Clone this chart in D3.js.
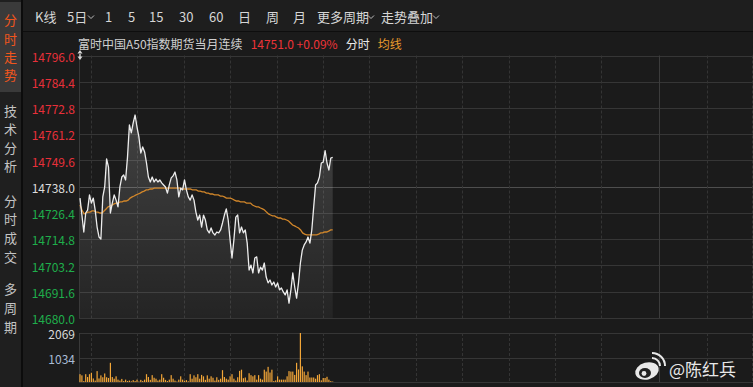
<!DOCTYPE html>
<html>
<head>
<meta charset="utf-8">
<script src="https://cdn.jsdelivr.net/npm/d3@7"></script>
<style>
body { margin: 0; background: #1b1b1b; overflow: hidden; }
svg text { font-family: "Noto Sans CJK SC", "Noto Sans", sans-serif; }
</style>
</head>
<body>
<svg id="chart" width="753" height="387"></svg>
<script>
// 菜单 / 侧栏文字
const menuItems = ["K线", "5日", "1", "5", "15", "30", "60", "日", "周", "月", "更多周期", "走势叠加"];
const sideGroups = [["分", "时", "走", "势"], ["技", "术", "分", "析"], ["分", "时", "成", "交"], ["多", "周", "期"]];
const title = "富时中国A50指数期货当月连续";
const lastPrice = "14751.0";
const lastChange = "+0.09%";

// 价格刻度
const priceTicks = [14796.0, 14784.4, 14772.8, 14761.2, 14749.6, 14738.0, 14726.4, 14714.8, 14703.2, 14691.6, 14680.0];
const prevClose = 14738.0;
const volTicks = [2069, 1034];

// 分时价格
const prices = [
  14733.0, 14725.5, 14718.0, 14726.4, 14727.7, 14734.4, 14730.8, 14733.0, 14727.7, 14720.2,
  14715.8, 14714.9, 14733.5, 14737.9, 14750.3, 14746.7, 14726.4, 14730.8, 14734.4, 14732.1,
  14729.1, 14737.9, 14742.3, 14743.2, 14741.0, 14751.1, 14765.3, 14761.8, 14766.2, 14769.7,
  14764.4, 14760.0, 14752.9, 14755.6, 14753.4, 14748.5, 14742.3, 14740.1, 14742.3, 14740.1,
  14741.4, 14740.1, 14741.0, 14739.7, 14738.8, 14737.9, 14735.2, 14738.8, 14741.9, 14742.8,
  14744.5, 14741.0, 14733.5, 14737.4, 14736.6, 14741.0, 14736.6, 14733.5, 14732.1, 14734.4,
  14732.1, 14726.8, 14723.3, 14725.5, 14720.2, 14725.5, 14723.3, 14718.9, 14717.6, 14719.8,
  14717.6, 14716.7, 14718.0, 14717.6, 14718.9, 14722.0, 14725.5, 14728.2, 14723.3, 14714.5,
  14706.5, 14714.5, 14724.6, 14725.5, 14717.6, 14720.2, 14717.6, 14718.9, 14713.1, 14701.2,
  14703.4, 14699.9, 14706.5, 14707.0, 14699.9, 14702.5, 14701.2, 14704.3, 14698.1, 14695.5,
  14696.8, 14694.6, 14695.9, 14693.7, 14695.5, 14692.4, 14693.3, 14691.5, 14690.2, 14692.4,
  14686.6, 14692.4, 14699.9, 14693.7, 14688.8, 14695.5, 14704.3, 14710.0, 14712.3, 14713.6,
  14715.8, 14713.1, 14718.9, 14729.1, 14738.8, 14739.7, 14742.3, 14748.5, 14748.9, 14754.0,
  14748.5, 14745.4, 14750.7, 14751.0
];

// 均线
const avgPrices = [
  14729.9, 14727.7, 14726.0, 14726.4, 14726.8, 14726.8, 14727.3, 14727.3, 14726.8, 14726.8,
  14726.4, 14726.4, 14727.3, 14728.2, 14729.1, 14729.5, 14729.9, 14730.4, 14730.8, 14730.8,
  14731.3, 14731.3, 14731.7, 14731.7, 14732.1, 14733.0, 14733.5, 14733.9, 14734.4, 14734.8,
  14735.2, 14735.7, 14736.1, 14736.6, 14736.6, 14737.0, 14737.0, 14737.4, 14737.4, 14737.4,
  14737.4, 14737.4, 14737.4, 14737.4, 14737.4, 14737.4, 14737.4, 14737.4, 14737.4, 14737.4,
  14737.4, 14737.0, 14737.0, 14737.0, 14737.0, 14737.0, 14736.6, 14736.6, 14736.6, 14736.1,
  14736.1, 14735.7, 14735.7, 14735.2, 14735.2, 14734.8, 14734.8, 14734.4, 14734.4, 14734.4,
  14733.9, 14733.9, 14733.5, 14733.0, 14733.0, 14733.0, 14732.6, 14732.1, 14731.7, 14731.7,
  14731.3, 14731.3, 14731.3, 14730.8, 14730.8, 14730.8, 14729.9, 14729.5, 14729.1, 14729.1,
  14728.6, 14728.2, 14727.7, 14726.8, 14726.0, 14725.5, 14725.1, 14725.1, 14724.6, 14724.2,
  14724.2, 14723.7, 14723.7, 14723.3, 14722.9, 14722.0, 14721.1, 14720.7, 14720.2, 14719.8,
  14718.9, 14717.6, 14717.1, 14716.7, 14716.7, 14716.7, 14716.7, 14716.7, 14716.7,
  14717.1, 14717.6, 14717.6, 14718.0, 14718.0, 14718.4, 14718.9, 14718.9
];

// 成交量
const volumes = [
  330, 280, 40, 330, 210, 330, 390, 150, 60, 460,
  150, 280, 200, 360, 200, 170, 810, 210, 140, 240,
  100, 60, 130, 40, 100, 40, 60, 30, 80, 40,
  100, 20, 90, 40, 100, 330, 210, 90, 290, 180,
  140, 60, 100, 330, 180, 90, 40, 100, 290, 140,
  60, 20, 100, 240, 100, 50, 80, 30, 330, 140,
  280, 200, 330, 140, 300, 240, 90, 280, 140, 240,
  180, 60, 200, 90, 140, 500, 210, 140, 100, 240,
  330, 140, 60, 200, 470, 520, 160, 190, 60, 370,
  290, 240, 290, 100, 290, 140, 100, 520, 440, 640,
  400, 520, 40, 70, 240, 100, 100, 100, 100, 240,
  460, 440, 440, 300, 810, 530, 2069, 660, 440, 290,
  440, 190, 190, 190, 140, 290, 330, 70, 170, 170,
  220, 100, 40, 20
];

// 时间分隔线 (以分时序号计)
const timeTicks = [5.8, 30.2, 54.6, 79.1, 103.5, 127.9, 152.3, 176.7, 201.2, 225.6, 250, 274.4, 304.7, 330, 353.7];
const solidTicks = [304.7];

const svg = d3.select("#chart");
const W = 753, H = 387;
const left = 79;

svg.append("rect").attr("width", W).attr("height", H).attr("fill", "#1b1b1b");

// 侧栏
svg.append("rect").attr("x", 0).attr("y", 0).attr("width", 21).attr("height", H).attr("fill", "#1f1f1f");
svg.append("rect").attr("x", 0).attr("y", 2).attr("width", 21).attr("height", 90).attr("fill", "#3a3a3a");
svg.append("rect").attr("x", 21).attr("y", 0).attr("width", 2).attr("height", H).attr("fill", "#0c0c0c");
const sideY = [[19, 38, 56, 74], [110, 128, 147, 165], [200, 218, 237, 256], [288, 307, 326]];
sideGroups.forEach((g, gi) => {
  g.forEach((ch, ci) => {
    svg.append("text")
      .attr("x", 10.5).attr("y", sideY[gi][ci])
      .attr("text-anchor", "middle").attr("dominant-baseline", "central")
      .attr("font-size", 13)
      .attr("fill", gi === 0 ? "#f2561d" : "#c4c4c4")
      .text(ch);
  });
});

// 顶部菜单
svg.append("rect").attr("x", 23).attr("y", 0).attr("width", W - 23).attr("height", 31).attr("fill", "#1e1e1e");
svg.append("rect").attr("x", 23).attr("y", 31).attr("width", W - 23).attr("height", 1).attr("fill", "#0e0e0e");
const menuX = [35, 67, 105, 128, 149, 179, 209, 238, 266, 293, 317, 381];
const chevronAfter = { 1: 88, 10: 368, 11: 433 };
menuItems.forEach((m, i) => {
  svg.append("text")
    .attr("x", menuX[i]).attr("y", 16)
    .attr("dominant-baseline", "central")
    .attr("font-size", 13).attr("fill", "#d6d6d6")
    .text(m);
  if (chevronAfter[i] !== undefined) {
    const cx = chevronAfter[i];
    svg.append("path")
      .attr("d", `M${cx},15.5 L${cx + 3},18.5 L${cx + 6},15.5`)
      .attr("fill", "none").attr("stroke", "#bdbdbd").attr("stroke-width", 1);
  }
});

// 标题行
const head = svg.append("text").attr("x", 78).attr("y", 43)
  .attr("dominant-baseline", "central").attr("font-size", 12);
head.append("tspan").attr("fill", "#d0d0d0").text(title);
head.append("tspan").attr("dx", 8).attr("fill", "#ee3338").text(lastPrice + " " + lastChange);
head.append("tspan").attr("dx", 8).attr("fill", "#e8e8e8").text("分时");
head.append("tspan").attr("dx", 8).attr("fill", "#e89a2c").text("均线");

// 比例尺
const x = d3.scaleLinear().domain([0, 354]).range([80, 752.6]);
const y = d3.scaleLinear().domain([14680, 14796]).range([318, 55.5]);
const yv = d3.scaleLinear().domain([0, 2069]).range([382, 333]);

const grid = svg.append("g");

// 横向网格
priceTicks.forEach(t => {
  grid.append("line")
    .attr("x1", left).attr("x2", W)
    .attr("y1", Math.round(y(t)) + 0.5).attr("y2", Math.round(y(t)) + 0.5)
    .attr("stroke", t === prevClose ? "#4e4e4e" : "#363636").attr("stroke-width", 1);
});
[2069, 1034, 0].forEach(t => {
  grid.append("line")
    .attr("x1", left).attr("x2", W)
    .attr("y1", Math.round(yv(t)) + 0.5).attr("y2", Math.round(yv(t)) + 0.5)
    .attr("stroke", "#363636");
});

// 纵向网格
timeTicks.forEach(t => {
  const xx = Math.round(x(t)) + 0.5;
  const solid = solidTicks.includes(t);
  [[y(14796), y(14680)], [yv(2069), yv(0)]].forEach(([a, b]) => {
    grid.append("line")
      .attr("x1", xx).attr("x2", xx).attr("y1", a).attr("y2", b)
      .attr("stroke", solid ? "#3c3c3c" : "#343434")
      .attr("stroke-dasharray", solid ? null : "3,2");
  });
});
// 左边框
[[y(14796), y(14680)], [yv(2069), yv(0)]].forEach(([a, b]) => {
  grid.append("line").attr("x1", left + 0.5).attr("x2", left + 0.5).attr("y1", a).attr("y2", b)
    .attr("stroke", "#3a3a3a");
});

// 纵轴标签
priceTicks.forEach(t => {
  svg.append("text")
    .attr("x", 75).attr("y", y(t) + 0.5)
    .attr("text-anchor", "end").attr("dominant-baseline", "central")
    .attr("font-size", 12)
    .attr("fill", t > prevClose ? "#e8303a" : t < prevClose ? "#1fae4b" : "#dcdcdc")
    .text(t.toFixed(1));
});
volTicks.forEach((t, i) => {
  svg.append("text")
    .attr("x", 75).attr("y", yv(t) + 0.5)
    .attr("text-anchor", "end").attr("dominant-baseline", "central")
    .attr("font-size", 12)
    .attr("fill", i === 0 ? "#d8d8d8" : "#a9bcd6")
    .text(t);
});
// 上下拖动图标
svg.append("path")
  .attr("d", "M80,50 L77.5,53.5 L82.5,53.5 Z M80,60 L77.5,56.5 L82.5,56.5 Z M79.3,53 h1.4 v4 h-1.4 Z")
  .attr("fill", "#d8d8d8");

// 价格面积
const defs = svg.append("defs");
const grad = defs.append("linearGradient").attr("id", "areaGrad")
  .attr("x1", 0).attr("y1", 0).attr("x2", 0).attr("y2", 1);
grad.append("stop").attr("offset", "0%").attr("stop-color", "#ffffff").attr("stop-opacity", 0.17);
grad.append("stop").attr("offset", "100%").attr("stop-color", "#ffffff").attr("stop-opacity", 0.04);

const area = d3.area()
  .x((d, i) => x(i))
  .y0(y(14680))
  .y1(d => y(d));
svg.append("path").datum(prices).attr("d", area).attr("fill", "url(#areaGrad)");

// 均线
const avgStep = (prices.length - 1) / (avgPrices.length - 1);
const avgLine = d3.line().x((d, i) => x(i * avgStep)).y(d => y(d));
svg.append("path").datum(avgPrices).attr("d", avgLine)
  .attr("fill", "none").attr("stroke", "#d1862a").attr("stroke-width", 1.3);

// 价格线
const priceLine = d3.line().x((d, i) => x(i)).y(d => y(d));
svg.append("path").datum(prices).attr("d", priceLine)
  .attr("fill", "none").attr("stroke", "#ededed").attr("stroke-width", 1.3)
  .attr("stroke-linejoin", "round");

// 成交量柱
svg.append("g").selectAll("rect")
  .data(volumes)
  .enter()
  .append("rect")
  .attr("x", (d, i) => x(i) - 0.6)
  .attr("y", d => yv(d))
  .attr("width", 1.2)
  .attr("height", d => yv(0) - yv(d))
  .attr("fill", "#f2a638");

// 水印
const wm = svg.append("g").attr("opacity", 0.95);
wm.append("ellipse").attr("cx", 647).attr("cy", 371).attr("rx", 12).attr("ry", 8.5)
  .attr("transform", "rotate(-15,647,371)").attr("fill", "#f4f4f4");
wm.append("ellipse").attr("cx", 645).attr("cy", 373).attr("rx", 6).attr("ry", 5).attr("fill", "#222");
wm.append("circle").attr("cx", 644).attr("cy", 373.5).attr("r", 2.4).attr("fill", "#f4f4f4");
wm.append("path").attr("d", "M652,358 A8,8 0 0 1 660,366").attr("fill", "none").attr("stroke", "#f4f4f4").attr("stroke-width", 2);
wm.append("path").attr("d", "M652,353 A13,13 0 0 1 665,366").attr("fill", "none").attr("stroke", "#f4f4f4").attr("stroke-width", 2);
wm.append("text").attr("x", 669).attr("y", 368).attr("dominant-baseline", "central")
  .attr("font-size", 17).attr("fill", "#f4f4f4").text("@陈红兵");
</script>
</body>
</html>
